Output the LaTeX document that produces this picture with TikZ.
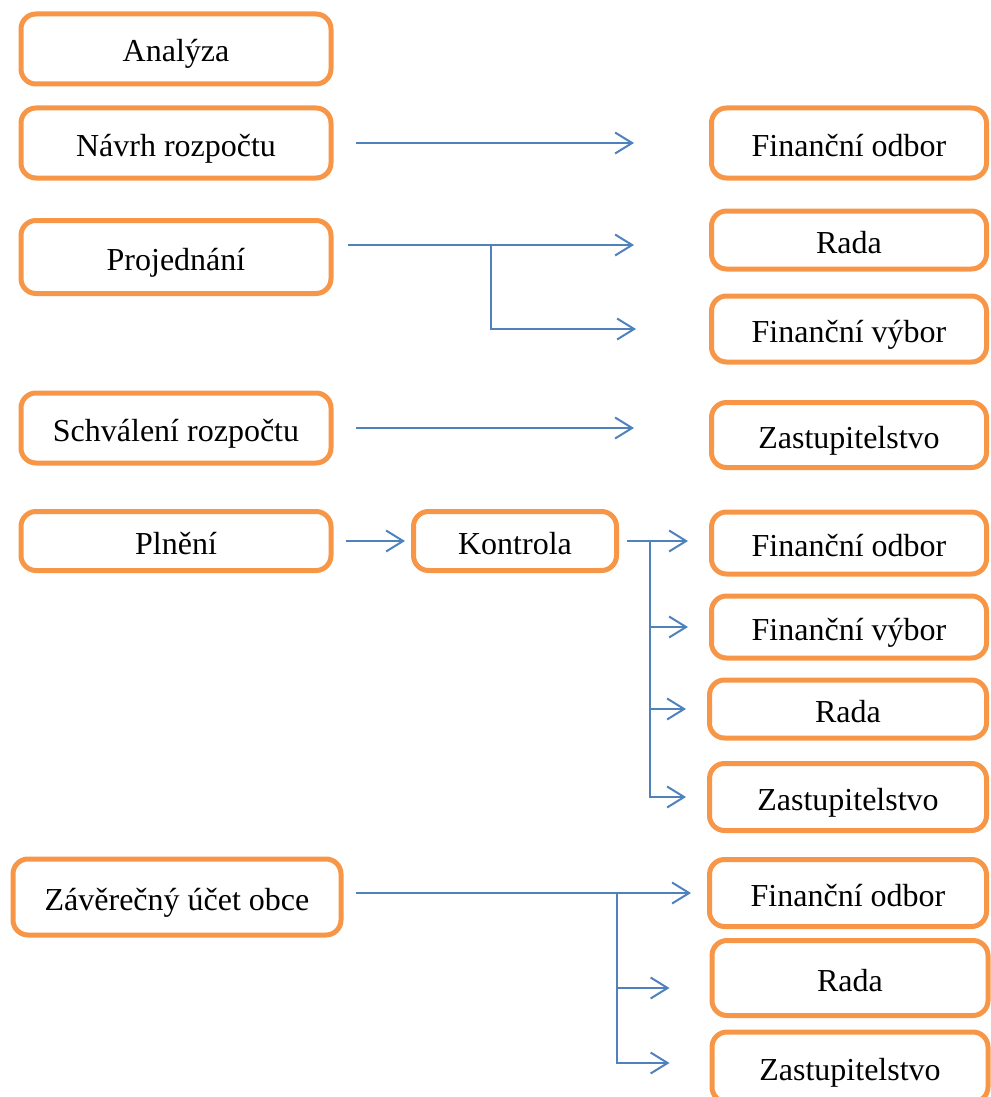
\documentclass[tikz,border=0pt]{standalone}
\usepackage{fontspec}
\setmainfont{Liberation Serif}
\usetikzlibrary{arrows.meta}
\definecolor{boxorange}{RGB}{247,150,70}
\definecolor{linkblue}{RGB}{79,129,189}
\begin{document}
\begin{tikzpicture}[x=1pt,y=-1pt,
        link/.style={linkblue,line width=2pt},
        arr/.style={link,-{Straight Barb[length=17pt,width=21pt]}}]
        \useasboundingbox (0,0) rectangle (990,1097);
        \begin{scope}[every node/.style={draw=boxorange,line width=5pt,rounded corners=15pt,
                        inner sep=0pt,text height=32pt,text depth=6pt,
                        font=\fontsize{32}{38}\selectfont}]
            % left column
            \node (an) at (176,49) [minimum width=310pt,minimum height=70pt]{Analýza};
            \node (navrh) at (176,143) [minimum width=310pt,minimum height=70pt]{Návrh rozpočtu};
            \node (proj) at (176,257) [minimum width=310pt,minimum height=73pt]{Projednání};
            \node (schv) at (176,428) [minimum width=310pt,minimum height=70pt]{Schválení rozpočtu};
            \node (plneni) at (176,541) [minimum width=310pt,minimum height=59pt]{Plnění};
            \node (kontrola) at (515,541) [minimum width=203pt,minimum height=59pt]{Kontrola};
            \node (zav) at (177,897) [minimum width=328pt,minimum height=76pt]{Závěrečný účet obce};
            % right column
            \node (fo1) at (849,143) [minimum width=275pt,minimum height=70pt]{Finanční odbor};
            \node (rada1) at (849,240) [minimum width=275pt,minimum height=58pt]{Rada};
            \node (fv1) at (849,329) [minimum width=275pt,minimum height=66pt]{Finanční výbor};
            \node (zast1) at (849,435) [minimum width=275pt,minimum height=65pt]{Zastupitelstvo};
            \node (fo2) at (849,543) [minimum width=275pt,minimum height=62pt]{Finanční odbor};
            \node (fv2) at (849,627) [minimum width=275pt,minimum height=62pt]{Finanční výbor};
            \node (rada2) at (848,709) [minimum width=277pt,minimum height=58pt]{Rada};
            \node (zast2) at (848,797) [minimum width=277pt,minimum height=67pt]{Zastupitelstvo};
            \node (fo3) at (848,893) [minimum width=277pt,minimum height=67pt]{Finanční odbor};
            \node (rada3) at (850,978) [minimum width=276pt,minimum height=75pt]{Rada};
            \node (zast3) at (850,1067) [minimum width=276pt,minimum height=70pt]{Zastupitelstvo};
        \end{scope}

        \coordinate (pfork) at (491,245);
        \coordinate (kfork) at (650,542);
        \coordinate (zfork) at (617,893);

        \draw[arr] ([xshift=22pt]navrh.east) -- ([xshift=-75pt]navrh.east -| fo1.west);
        \draw[arr] ([xshift=14pt]proj.east |- pfork) -- ([xshift=-75pt]rada1.west |- pfork);
        \draw[arr] (pfork) |- ([xshift=-73pt]fv1.west);
        \draw[arr] ([xshift=22pt]schv.east) -- ([xshift=-75pt]zast1.west |- schv.east);
        \draw[arr] ([xshift=12pt]plneni.east) -- ([xshift=-6pt]kontrola.west);
        \draw[arr] ([xshift=8pt]kontrola.east) -- ([xshift=-21pt]fo2.west |- kontrola.east);
        \foreach \t in {fv2,rada2,zast2}
            \draw[arr] (kfork) |- ([xshift=-21pt]\t.west);
        \draw[arr] ([xshift=12pt]zav.east |- zfork) -- ([xshift=-16pt]fo3.west |- zfork);
        \draw[arr] (zfork) |- ([xshift=-40pt,yshift=-10pt]rada3.west);
        \draw[arr] (zfork) |- ([xshift=-40pt,yshift=4pt]zast3.west);
    \end{tikzpicture}
\end{document}
